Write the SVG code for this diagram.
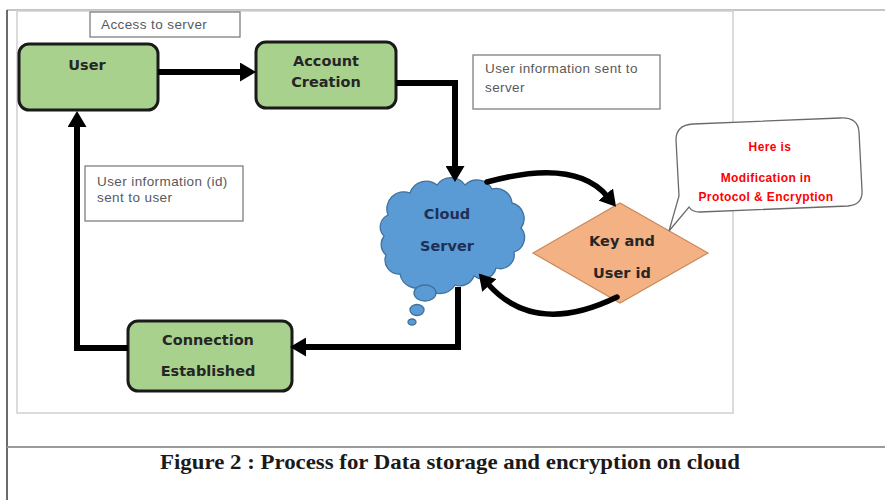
<svg xmlns="http://www.w3.org/2000/svg" width="885" height="500" viewBox="0 0 885 500">
  <style>
    .proc { fill: #a9d18e; stroke: #1a1a1a; stroke-width: 3; }
    .proc-text { font-family: "DejaVu Sans", Verdana, sans-serif; font-weight: bold; font-size: 14.5px; fill: #262626; text-anchor: middle; }
    .cloud-text { fill: #1f2f55; }
    .note { fill: #ffffff; stroke: #7f7f7f; stroke-width: 1.3; }
    .note-text { font-family: "Liberation Sans", Arial, sans-serif; font-size: 13.5px; letter-spacing: 0.4px; fill: #595959; }
    .flow { fill: none; stroke: #000000; stroke-width: 6; stroke-linejoin: miter; marker-end: url(#head); }
    .flow-curve { fill: none; stroke: #000000; stroke-width: 5.5; stroke-linecap: round; marker-end: url(#head); }
    .callout-text { font-family: "Liberation Sans", Arial, sans-serif; font-weight: bold; font-size: 12px; letter-spacing: 0.4px; fill: #ff0000; text-anchor: middle; }
    .frame { fill: none; stroke: #d0d0d0; stroke-width: 1.5; }
    .bubble { fill: #5b9bd5; stroke: #41719c; stroke-width: 1.3; }
  </style>
  <defs>
    <marker id="head" viewBox="0 0 16 19" refX="2" refY="9.5" markerWidth="16" markerHeight="19" markerUnits="userSpaceOnUse" orient="auto">
      <path d="M0,0 L16,9.5 L0,19 Z" fill="#000000"/>
    </marker>
  </defs>

  <!-- page background and frame lines -->
  <rect x="0" y="0" width="885" height="500" fill="#ffffff"/>
  <line x1="7" y1="10" x2="885" y2="10" stroke="#b0b0b0" stroke-width="1.5"/>
  <line x1="7" y1="10" x2="7" y2="500" stroke="#3a3a3a" stroke-width="1.5"/>
  <rect class="frame" x="17" y="11" width="716" height="402"/>
  <line x1="7" y1="447" x2="885" y2="447" stroke="#9a9a9a" stroke-width="2"/>

  <!-- annotation boxes -->
  <g id="note-access">
    <rect class="note" x="90" y="12" width="150" height="25"/>
    <text class="note-text" x="101" y="29">Access to server</text>
  </g>
  <g id="note-sent-server">
    <rect class="note" x="473" y="55" width="187" height="54"/>
    <text class="note-text" x="485" y="73">User information sent to</text>
    <text class="note-text" x="485" y="92">server</text>
  </g>
  <g id="note-sent-user">
    <rect class="note" x="85" y="166" width="158" height="55"/>
    <text class="note-text" x="97" y="186">User information (id)</text>
    <text class="note-text" x="97" y="202">sent to user</text>
  </g>

  <!-- process nodes -->
  <g id="user">
    <rect class="proc" x="19" y="44" width="139" height="66" rx="10"/>
    <text class="proc-text" x="87" y="70">User</text>
  </g>
  <g id="account-creation">
    <rect class="proc" x="256" y="42" width="140" height="66" rx="10"/>
    <text class="proc-text" x="326" y="66">Account</text>
    <text class="proc-text" x="326" y="87">Creation</text>
  </g>
  <g id="connection-established">
    <rect class="proc" x="128" y="321" width="164" height="70" rx="10"/>
    <text class="proc-text" x="208" y="345">Connection</text>
    <text class="proc-text" x="208" y="376">Established</text>
  </g>

  <!-- cloud server with thought bubbles -->
  <g id="cloud-server">
    <path class="bubble" d="M388,215 A17,17 0 0 1 410,193 A17,17 0 0 1 437,185 A17,17 0 0 1 465,185 A17,17 0 0 1 492,189 A16,16 0 0 1 512,203 A16,16 0 0 1 521,228 A15,15 0 0 1 514,252 A14,14 0 0 1 496,268 A14,14 0 0 1 474,276 A15,15 0 0 1 455,285 A18,18 0 0 1 425,286 A17,17 0 0 1 400,274 A14,14 0 0 1 386,255 A14,14 0 0 1 384,236 A13,13 0 0 1 388,215 Z"/>
    <ellipse class="bubble" cx="425" cy="293" rx="11" ry="8"/>
    <ellipse class="bubble" cx="417" cy="310" rx="7" ry="5.5"/>
    <ellipse class="bubble" cx="412" cy="322" rx="4" ry="3"/>
    <text class="proc-text cloud-text" x="447" y="219">Cloud</text>
    <text class="proc-text cloud-text" x="447" y="251">Server</text>
  </g>

  <!-- key and user id decision -->
  <g id="key-user-id">
    <polygon points="533,253 620,203 708,253 620,303" fill="#f4b183" stroke="#c98a5e" stroke-width="1.2"/>
    <text class="proc-text" x="622" y="246">Key and</text>
    <text class="proc-text" x="622" y="278">User id</text>
  </g>

  <!-- callout -->
  <g id="callout">
    <path d="M693,124 L840,118 Q858,117 859,132 L862,190 Q863,205 848,206 L700,212 Q692,212 689,207 L669,231 L679,196 L676,140 Q676,125 693,124 Z" fill="#ffffff" stroke="#6a6a6a" stroke-width="1.3"/>
    <text class="callout-text" x="770" y="151">Here is</text>
    <text class="callout-text" x="766" y="182">Modification in</text>
    <text class="callout-text" x="766" y="201">Protocol &amp; Encryption</text>
  </g>

  <!-- connectors -->
  <g id="connectors">
    <path class="flow" d="M158,72 H242"/>
    <path class="flow" d="M396,83 H455 V168"/>
    <path class="flow-curve" d="M487,182 Q575,158 607,196"/>
    <path class="flow-curve" d="M617,297 Q535,337 488,284"/>
    <path class="flow" d="M458,287 V347 H304"/>
    <path class="flow" d="M128,348 H77 V125"/>
  </g>

  <!-- caption -->
  <text x="160" y="469" textLength="580" lengthAdjust="spacingAndGlyphs" font-family="'Liberation Serif', 'Times New Roman', serif" font-weight="bold" font-size="21" fill="#1a1a1a">Figure 2 : Process for Data storage and encryption on cloud</text>
</svg>
